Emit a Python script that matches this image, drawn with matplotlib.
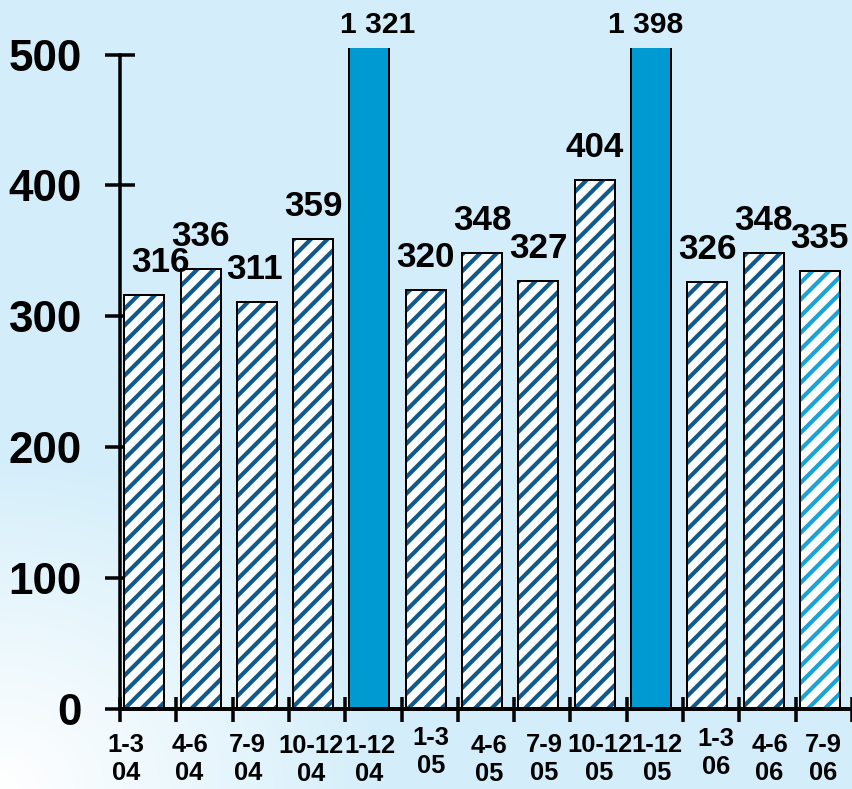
import numpy as np
import matplotlib
matplotlib.use("Agg")
import matplotlib.pyplot as plt

# ---------------- data ----------------
periods = ["1-3", "4-6", "7-9", "10-12", "1-12", "1-3", "4-6", "7-9", "10-12", "1-12", "1-3", "4-6", "7-9"]
years = ["04", "04", "04", "04", "04", "05", "05", "05", "05", "05", "06", "06", "06"]
values = [316, 336, 311, 359, 1321, 320, 348, 327, 404, 1398, 326, 348, 335]
kinds = ["q", "q", "q", "q", "y", "q", "q", "q", "q", "y", "q", "q", "n"]
value_texts = ["316", "336", "311", "359", "1 321", "320", "348", "327", "404", "1 398", "326", "348", "335"]
yticks = [0, 100, 200, 300, 400, 500]

# ---------------- style ----------------
DPI = 100
PT = 72.0 / DPI  # points per pixel
W, H = 853, 789
plt.rcParams["font.family"] = ["Liberation Sans", "DejaVu Sans"]
plt.rcParams["font.weight"] = "bold"
plt.rcParams["hatch.linewidth"] = 3.0

bg = np.array([211, 238, 250]) / 255.0
hatch_col = {"q": "#0F5A8C", "n": "#1AA3D6"}
solid_col = "#009AD2"

# per-label nudges (pixels)
val_dx = [16, 0, -2, 0, 8, 0, 0, 0, 0, -5, 0, 0, 0]
lab_dx = [-22, -15, -13, -6, -4, 1, 3, 2, 1, 2, 5, 2, -1]
lab_dy = [0, 0, 0, 1, 1, -7, 1, 0, 0, 0, -6, 0, 0]

fig = plt.figure(figsize=(W / DPI, H / DPI), dpi=DPI)

# background gradient
bgax = fig.add_axes([0, 0, 1, 1], zorder=-10)
yy, xx = np.mgrid[0:H, 0:W]
d = np.sqrt((xx / 380.0) ** 2 + ((H - yy) / 330.0) ** 2)
t = np.clip(1 - d, 0, 1) ** 0.9
img = bg[None, None, :] * (1 - t[..., None]) + np.ones(3)[None, None, :] * t[..., None]
bgax.imshow(img, aspect="auto", extent=[0, W, H, 0])
bgax.set_axis_off()

x0, x1 = 120, 852
y0, ytop = 709, 48
ax = fig.add_axes([x0 / W, (H - y0) / H, (x1 - x0) / W, (y0 - ytop) / H])
ax.set_facecolor("none")
ax.set_xlim(-0.5, 12.5)
ax.set_ylim(0, 505)

pos = np.arange(len(values)) - 0.07
bw = 0.71
for i, (v, k) in enumerate(zip(values, kinds)):
    if k == "y":
        ax.bar(pos[i], v, width=bw, color=solid_col, edgecolor="black", linewidth=2.0 * PT, zorder=3)
    else:
        ax.bar(pos[i], v, width=bw, color="white", edgecolor=hatch_col[k], hatch="//",
               linewidth=0, zorder=3)
        ax.bar(pos[i], v, width=bw, color="none", edgecolor="black", linewidth=2.0 * PT, zorder=4)

# value labels
for i, (v, s) in enumerate(zip(values, value_texts)):
    if v > 505:
        ax.annotate(s, xy=(pos[i], 505), xytext=(val_dx[i] * PT, 15 * PT), textcoords="offset points",
                    ha="center", va="baseline", fontsize=30 * PT, fontweight="bold",
                    annotation_clip=False)
    else:
        ax.annotate(s, xy=(pos[i], v), xytext=(val_dx[i] * PT, 23 * PT), textcoords="offset points",
                    ha="center", va="baseline", fontsize=35 * PT, fontweight="bold",
                    annotation_clip=False)

# x category labels
for i, (p, yv) in enumerate(zip(periods, years)):
    ax.annotate(p + "\n" + yv, xy=(pos[i], 0), xytext=((lab_dx[i] + 4) * PT, -(24 + lab_dy[i]) * PT),
                textcoords="offset points", ha="center", va="top", multialignment="center",
                fontsize=25.5 * PT, fontweight="bold", linespacing=1.22, annotation_clip=False)

# axes
for s in ["top", "right"]:
    ax.spines[s].set_visible(False)
ax.spines["left"].set_bounds(0, 500)
ax.spines["left"].set_linewidth(3.5 * PT)
ax.spines["bottom"].set_linewidth(4 * PT)
ax.spines["left"].set_zorder(5)
ax.spines["bottom"].set_zorder(5)

ax.set_yticks(yticks)
ax.set_yticklabels([str(t) for t in yticks])
ax.tick_params(axis="y", direction="inout", length=30 * PT, width=3.5 * PT, pad=23 * PT,
               labelsize=44 * PT)
ax.set_xticks(np.arange(-0.5, 13.0, 1.0))
ax.set_xticklabels([])
ax.tick_params(axis="x", direction="inout", length=25 * PT, width=3.5 * PT)
for lab in ax.get_yticklabels():
    lab.set_fontweight("bold")

fig.savefig("out.png", dpi=DPI)
